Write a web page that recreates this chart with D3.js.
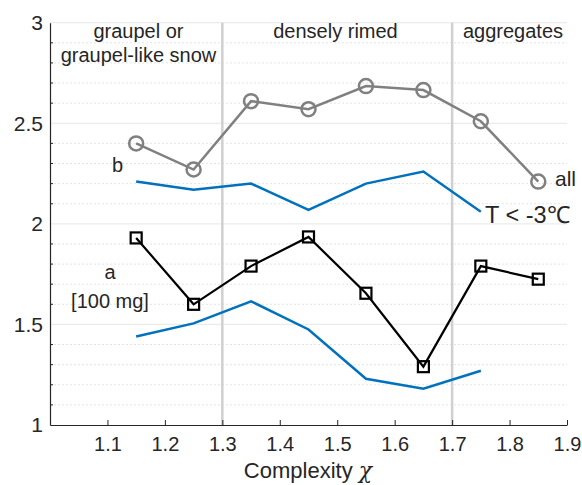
<!DOCTYPE html>
<html>
<head>
<meta charset="utf-8">
<script src="https://cdn.jsdelivr.net/npm/d3@7"></script>
<style>
  html, body { margin: 0; padding: 0; background: #fff; }
  svg text { font-family: "Liberation Sans", Arial, Helvetica, sans-serif; fill: #262626; }
</style>
</head>
<body>
<svg id="chart" width="582" height="485"></svg>
<script>
// Complexity bin centres
const complexity = [1.15, 1.25, 1.35, 1.45, 1.55, 1.65, 1.75, 1.85];

// Exponent b: all particles (grey circles) and T < -3°C (blue)
const bAll   = [2.40, 2.27, 2.61, 2.57, 2.685, 2.665, 2.51, 2.21];
const bCold  = [2.21, 2.17, 2.20, 2.07, 2.20, 2.26, 2.06];

// Prefactor a [100 mg]: all particles (black squares) and T < -3°C (blue)
const aAll   = [1.93, 1.60, 1.79, 1.935, 1.655, 1.29, 1.79, 1.725];
const aCold  = [1.44, 1.505, 1.615, 1.475, 1.23, 1.18, 1.27];

// Habit regime boundaries and names
const regimeBounds = [1.3, 1.7];
const regimeLabels = [
  { x: 1.154, lines: ["graupel or", "graupel-like snow"] },
  { x: 1.497, lines: ["densely rimed"] },
  { x: 1.806, lines: ["aggregates"] }
];

const xTicks = [1.1, 1.2, 1.3, 1.4, 1.5, 1.6, 1.7, 1.8, 1.9];
const yTicks = [1, 1.5, 2, 2.5, 3];

const svg = d3.select("#chart");
const x = d3.scaleLinear().domain([1.0, 1.9]).range([50, 567]);
const y = d3.scaleLinear().domain([1, 3]).range([425, 22.7]);

// Minor grid (every 0.1) dotted, major grid (every 0.5) solid
const minor = d3.range(11, 30).map(v => v / 10).filter(v => Math.abs(v * 2 - Math.round(v * 2)) > 1e-6);
svg.append("g").selectAll("line").data(minor).join("line")
  .attr("x1", x(1.0)).attr("x2", x(1.9))
  .attr("y1", d => y(d)).attr("y2", d => y(d))
  .attr("stroke", "#e4e4e4").attr("stroke-width", 1).attr("stroke-dasharray", "2,2");
svg.append("g").selectAll("line").data(yTicks.filter(v => v > 1)).join("line")
  .attr("x1", x(1.0)).attr("x2", x(1.9))
  .attr("y1", d => y(d)).attr("y2", d => y(d))
  .attr("stroke", "#ebebeb").attr("stroke-width", 1.2);

// Regime separators
svg.append("g").selectAll("line").data(regimeBounds).join("line")
  .attr("x1", d => x(d)).attr("x2", d => x(d))
  .attr("y1", y(3)).attr("y2", y(1))
  .attr("stroke", "#d0d0d0").attr("stroke-width", 2.5);

// Axes
const xAxis = d3.axisBottom(x).tickValues(xTicks).tickSizeInner(-5).tickSizeOuter(0)
  .tickFormat(d3.format(".1f"));
const gx = svg.append("g").attr("transform", `translate(0,${y(1)})`).call(xAxis);
gx.select(".domain").attr("stroke", "#262626").attr("stroke-width", 1.2);
gx.selectAll(".tick line").attr("stroke", "#262626");
gx.selectAll(".tick text").attr("y", 12).attr("font-size", 20).attr("dy", "0.71em");

const yAxis = d3.axisLeft(y).tickValues(yTicks).tickSizeInner(0).tickSizeOuter(0)
  .tickFormat(d => d3.format("~g")(d));
const gy = svg.append("g").attr("transform", `translate(${x(1.0)},0)`).call(yAxis);
gy.select(".domain").attr("stroke", "#262626").attr("stroke-width", 1.2);
gy.selectAll(".tick text").attr("x", -7).attr("font-size", 21);

// Minor y ticks on the axis
svg.append("g").selectAll("line").data(minor).join("line")
  .attr("x1", x(1.0)).attr("x2", x(1.0) + 3)
  .attr("y1", d => y(d)).attr("y2", d => y(d))
  .attr("stroke", "#262626").attr("stroke-width", 1);

svg.append("text").attr("x", 308).attr("y", 478)
  .attr("text-anchor", "middle").attr("font-size", 22)
  .text("Complexity ").append("tspan").attr("font-style", "italic")
  .attr("font-family", "'DejaVu Serif', serif").text("χ");

// Lines
const line = d3.line().x((d, i) => x(complexity[i])).y(d => y(d));

svg.append("path").datum(bCold).attr("d", line)
  .attr("fill", "none").attr("stroke", "#0072BD").attr("stroke-width", 2.5);
svg.append("path").datum(aCold).attr("d", line)
  .attr("fill", "none").attr("stroke", "#0072BD").attr("stroke-width", 2.5);

svg.append("path").datum(bAll).attr("d", line)
  .attr("fill", "none").attr("stroke", "#808080").attr("stroke-width", 2.5);
svg.append("g").selectAll("circle").data(bAll).join("circle")
  .attr("cx", (d, i) => x(complexity[i])).attr("cy", d => y(d)).attr("r", 7)
  .attr("fill", "none").attr("stroke", "#808080").attr("stroke-width", 2.5);

svg.append("path").datum(aAll).attr("d", line)
  .attr("fill", "none").attr("stroke", "#000").attr("stroke-width", 2.2);
svg.append("g").selectAll("rect").data(aAll).join("rect")
  .attr("x", (d, i) => x(complexity[i]) - 5.5).attr("y", d => y(d) - 5.5)
  .attr("width", 11).attr("height", 11)
  .attr("fill", "none").attr("stroke", "#000").attr("stroke-width", 2.2);

// Regime names
regimeLabels.forEach(r => {
  const t = svg.append("text").attr("text-anchor", "middle").attr("font-size", 20);
  r.lines.forEach((s, i) => {
    t.append("tspan").attr("x", x(r.x)).attr("y", 38 + i * 24).text(s);
  });
});

// Series annotations
svg.append("text").attr("x", 117.5).attr("y", 172).attr("text-anchor", "middle").attr("font-size", 20).text("b");
svg.append("text").attr("x", 110).attr("y", 279).attr("text-anchor", "middle").attr("font-size", 20).text("a");
svg.append("text").attr("x", 110).attr("y", 308).attr("text-anchor", "middle").attr("font-size", 20).text("[100 mg]");
svg.append("text").attr("x", 555).attr("y", 186).attr("font-size", 21).text("all");
svg.append("text").attr("x", 485).attr("y", 223).attr("font-size", 23.5).text("T < -3℃");
</script>
</body>
</html>
